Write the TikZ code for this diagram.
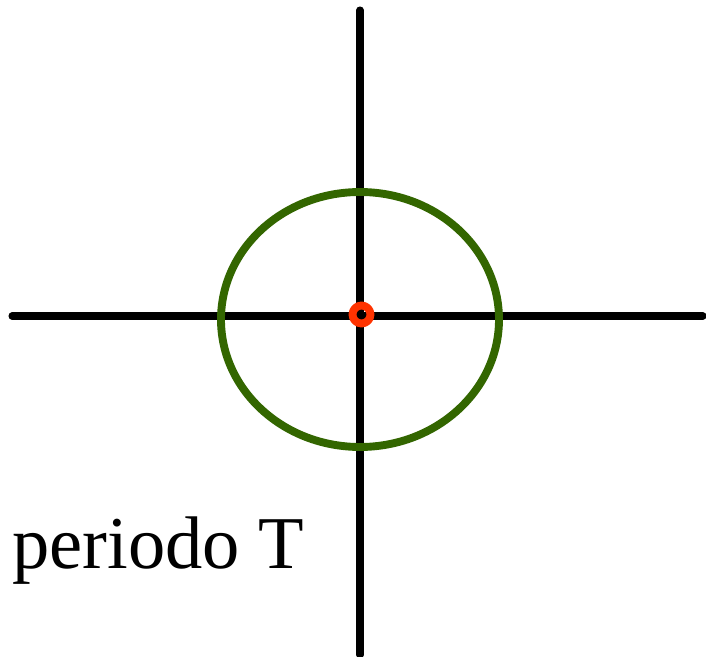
\documentclass[tikz,border=0pt]{standalone}
\usepackage{fontspec}
\setmainfont{Liberation Serif}
\definecolor{orbitgreen}{RGB}{51,102,0}
\definecolor{sunred}{RGB}{255,51,0}
\begin{document}
\begin{tikzpicture}[x=0.025cm, y=-0.025cm, line join=round, line cap=round,
	axis/.style={line width=5pt, black},
	orbit/.style={line width=5.6pt, orbitgreen},
	centre/.style={line width=5.6pt, sunred}]
	\useasboundingbox (0,0) rectangle (706,657);
	\path (360,10) coordinate (N)
	(360,655) coordinate (S)
	(12,316) coordinate (W)
	(703,316) coordinate (E)
	(360,319.5) coordinate (O)
	(361.5,314.5) coordinate (F);
	\draw[axis] (N)--(S) (W)--(E);
	\draw[orbit] (O) ellipse [x radius=139, y radius=127.5];
	\draw[centre] (F) circle (9);
	\node[anchor=base west, inner sep=0pt, font=\fontsize{53}{60}\selectfont] (label) at (12,568) {periodo T};
\end{tikzpicture}
\end{document}
